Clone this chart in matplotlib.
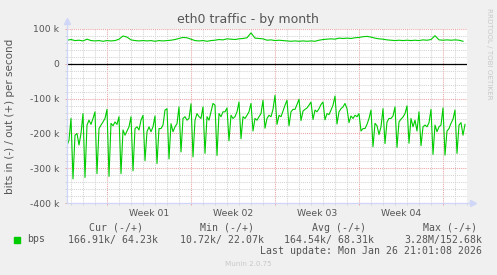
import matplotlib
matplotlib.use("Agg")
import matplotlib.pyplot as plt
import matplotlib.dates as mdates
from matplotlib.ticker import FixedLocator, MultipleLocator, FuncFormatter
from datetime import datetime, timedelta

BG = "#f0f0f0"
GREEN = "#00cc00"
FONT = "#555555"
AXIS = "#cfd6f8"
MGRID = "#eba3a3"
GRID = "#d4d4d4"

# --- data: kbit/s ----------------------------------------------------------
START = datetime(2025, 12, 24, 16)
END = datetime(2026, 1, 27, 0)

# in (plotted negative), one value every 4 h
bps_in = [
    235, 219, 157, 330, 205, 200,
    233, 200, 143, 326, 176, 162,
    174, 157, 138, 315, 186, 176,
    167, 157, 131, 323, 171, 178,
    167, 174, 152, 315, 190, 205,
    193, 181, 152, 307, 186, 181,
    190, 162, 148, 278, 195, 181,
    195, 181, 150, 286, 186, 186,
    176, 133, 129, 273, 172, 195,
    181, 172, 124, 253, 157, 152,
    162, 157, 115, 267, 162, 143,
    152, 157, 124, 257, 152, 162,
    138, 114, 119, 263, 143, 152,
    138, 138, 127, 221, 148, 157,
    152, 138, 110, 215, 152, 157,
    148, 138, 114, 193, 157, 162,
    152, 143, 105, 185, 157, 148,
    152, 131, 91, 174, 148, 152,
    136, 119, 105, 178, 138, 131,
    131, 117, 102, 163, 136, 131,
    127, 119, 110, 160, 133, 138,
    129, 117, 110, 161, 143, 146,
    133, 119, 93, 173, 138, 129,
    124, 114, 129, 169, 150, 157,
    148, 152, 143, 193, 186, 186,
    174, 157, 133, 238, 171, 178,
    203, 181, 129, 229, 167, 157,
    157, 150, 124, 240, 167, 159,
    153, 143, 121, 228, 157, 181,
    162, 193, 138, 235, 181, 176,
    181, 169, 131, 260, 176, 195,
    181, 176, 127, 262, 193, 186,
    171, 159, 133, 257, 176, 169,
    205, 174,
]

# out, one value every 8 h
bps_out = [
    67, 69, 66, 67, 65, 70, 66, 65, 66, 64,
    66, 65, 66, 70, 79, 76, 68, 66, 65, 66,
    65, 66, 64, 66, 65, 66, 67, 69, 72, 75,
    74, 70, 66, 65, 66, 64, 66, 67, 69, 68,
    71, 70, 69, 71, 72, 74, 88, 73, 72, 71,
    67, 68, 66, 67, 66, 65, 64, 65, 64, 65,
    64, 65, 64, 67, 69, 70, 71, 70, 73, 72,
    73, 72, 74, 75, 77, 78, 76, 73, 71, 70,
    68, 67, 66, 67, 66, 67, 66, 67, 66, 68,
    67, 69, 80, 68, 67, 68, 67, 68, 67, 64,
]

week_labels = ["Week 01", "Week 02", "Week 03", "Week 04"]
week_starts = [datetime(2025, 12, 28) + timedelta(days=7 * k) for k in range(5)]

t_in = [START + timedelta(hours=4 * i) for i in range(len(bps_in))]
t_out = [START + timedelta(hours=8 * j) for j in range(len(bps_out))]

# --- figure -----------------------------------------------------------------
W, H = 497, 275
L, R, T, B = 67, 467, 28.7, 203.3


def fx(x):
    return x / W


def fy(y):
    return 1 - y / H


fig = plt.figure(figsize=(W / 100, H / 100), dpi=100)
fig.patch.set_facecolor(BG)
ax = fig.add_axes([fx(L), fy(B), (R - L) / W, (B - T) / H])
ax.set_facecolor("white")

ax.plot(t_in, [-v * 1000 for v in bps_in], color=GREEN, lw=0.8, zorder=4)
ax.plot(t_out, [v * 1000 for v in bps_out], color=GREEN, lw=0.8, zorder=4)
ax.axhline(0, color="black", lw=0.9, zorder=3)

ax.set_xlim(START, END)
ax.set_ylim(-400000, 100000)

# grid
dotted = (0, (1, 1))
ax.xaxis.set_major_locator(FixedLocator(mdates.date2num(week_starts)))
ax.xaxis.set_minor_locator(mdates.DayLocator())
ax.yaxis.set_major_locator(MultipleLocator(100000))
ax.yaxis.set_minor_locator(MultipleLocator(20000))
ax.grid(which="major", color=MGRID, lw=0.75, ls=dotted, zorder=1)
ax.grid(which="minor", color=GRID, lw=0.75, ls=dotted, zorder=1)
ax.set_axisbelow(True)

ax.xaxis.set_major_formatter(FuncFormatter(lambda v, p: ""))
ax.yaxis.set_major_formatter(
    FuncFormatter(lambda v, p: "0" if v == 0 else f"{v / 1000:.0f} k"))
ax.tick_params(which="major", length=1.6, width=0.7, color=MGRID,
               labelsize=6.7, labelcolor=FONT, pad=4)
ax.tick_params(which="minor", length=1.6, width=0.7, color=GRID)

for s in ax.spines.values():
    s.set_visible(False)

# axis lines with arrows
ax.plot([0, 0], [0, 1.04], transform=ax.transAxes, clip_on=False,
        color=AXIS, lw=0.9, zorder=5)
ax.plot([0], [1.045], marker="^", ms=4, color=AXIS, mec=AXIS,
        transform=ax.transAxes, clip_on=False, zorder=5)
ax.plot([0, 1.01], [0, 0], transform=ax.transAxes, clip_on=False,
        color=AXIS, lw=0.9, zorder=5)
ax.plot([1.014], [0], marker=">", ms=4, color=AXIS, mec=AXIS,
        transform=ax.transAxes, clip_on=False, zorder=5)

# week labels centred between week boundaries
for k, lab in enumerate(week_labels):
    mid = week_starts[k] + (week_starts[k + 1] - week_starts[k]) / 2
    ax.text(mdates.date2num(mid), -400000, lab, ha="center", va="top",
            fontsize=6.7, color=FONT, transform=ax.transData)
for t in ax.texts:
    t.set_y(-415000)

# titles
fig.text(fx(248), fy(19), "eth0 traffic - by month", ha="center",
         va="center", fontsize=9, color=FONT)
fig.text(fx(10), fy(116), "bits in (-) / out (+) per second", rotation=90,
         ha="center", va="center", fontsize=7.5, color=FONT)
fig.text(fx(488.5), fy(53.5), "RRDTOOL / TOBI OETIKER", rotation=270,
         ha="center", va="center", fontsize=5.1, color="#c8c8c8")

# legend
MONO = dict(family="DejaVu Sans Mono", fontsize=7.1, color=FONT, va="center")
fig.patches.append(plt.Rectangle((fx(14), fy(242.7)), 5.5 / W, 6 / H,
                                 transform=fig.transFigure, color=GREEN))
fig.text(fx(26.7), fy(239.5), "bps", **MONO)
for xl, s in [(89, "Cur (-/+)"), (200, "Min (-/+)"),
              (312, "Avg (-/+)"), (422.7, "Max (-/+)")]:
    fig.text(fx(xl), fy(227.7), s, **MONO)
for xr, s in [(157.7, "166.91k/ 64.23k"), (264, "10.72k/ 22.07k"),
              (374.3, "164.54k/ 68.31k"), (482.3, "3.28M/152.68k")]:
    fig.text(fx(xr), fy(239.5), s, ha="right", **MONO)
fig.text(fx(482.3), fy(251), "Last update: Mon Jan 26 21:01:08 2026",
         ha="right", **MONO)
fig.text(fx(248), fy(264.5), "Munin 2.0.75", ha="center", va="center",
         fontsize=5.1, color="#c8c8c8")

fig.savefig("out.png", dpi=100, facecolor=BG)
